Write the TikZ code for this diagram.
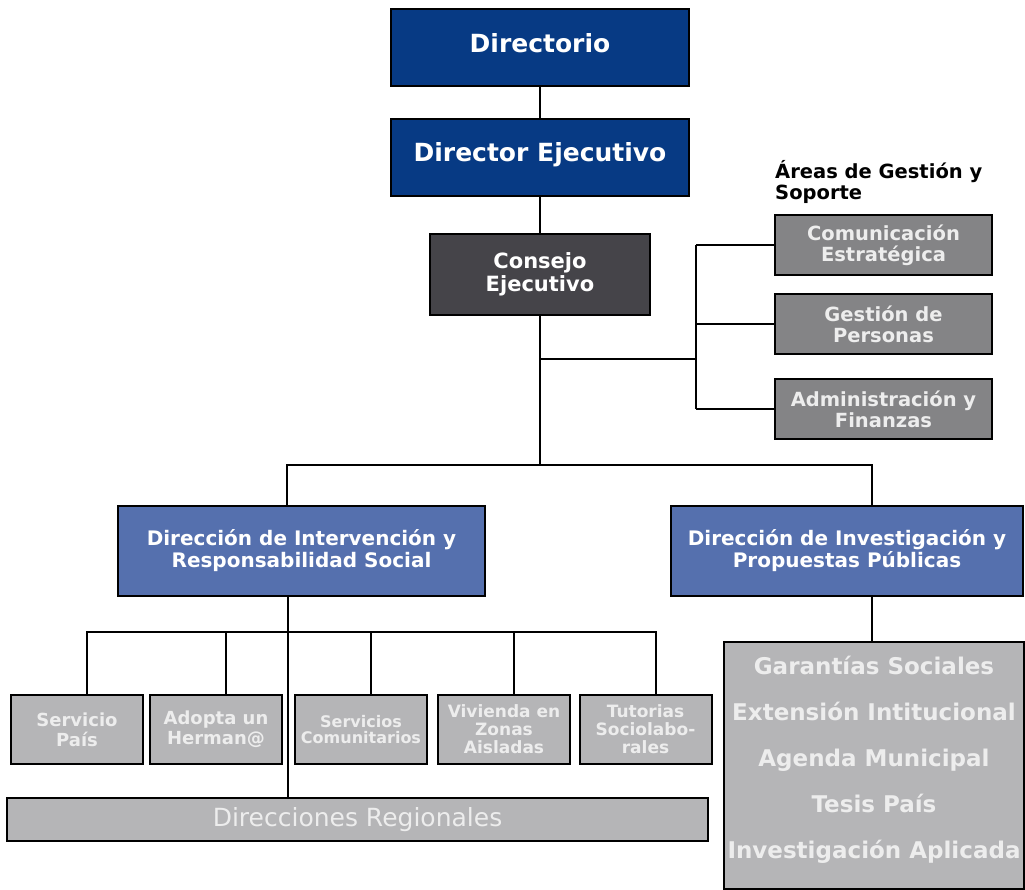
\documentclass[tikz,border=0pt]{standalone}
\usepackage{fontspec}
\setmainfont{DejaVu Sans}
\usetikzlibrary{calc, positioning}

\definecolor{navy}{HTML}{073A84}
\definecolor{steel}{HTML}{5570AE}
\definecolor{coal}{HTML}{454449}
\definecolor{midgray}{HTML}{848486}
\definecolor{lightgray}{HTML}{B5B5B7}
\definecolor{paletext}{HTML}{EDEDED}

\tikzset{
    box/.style={draw=black, line width=2pt, align=center, inner sep=0pt},
    navybox/.style={box, fill=navy, text=white, minimum width=298pt, minimum height=77pt,
        text depth=10pt, font=\fontsize{25}{28}\selectfont\bfseries},
    coalbox/.style={box, fill=coal, text=white, minimum width=220pt, minimum height=81pt,
        font=\fontsize{21}{23}\selectfont\bfseries},
    areabox/.style={box, fill=midgray, text=paletext, minimum width=217pt, minimum height=60pt,
        font=\fontsize{19.5}{21}\selectfont\bfseries},
    steelbox/.style={box, fill=steel, text=white, minimum height=90pt,
        font=\fontsize{20}{22}\selectfont\bfseries},
    unitbox/.style={box, fill=lightgray, text=paletext, minimum width=132pt, minimum height=69pt},
    conn/.style={line width=2pt}
}

\begin{document}
\begin{tikzpicture}[x=1pt, y=-1pt]
    \useasboundingbox (0, 0) rectangle (1025, 890);

    \node[navybox] (dir) at (540, 48) {Directorio};
    \node[navybox] (dex) at (540, 157.5) {Director Ejecutivo};
    \node[coalbox] (cex) at (540, 274.5) {Consejo\\Ejecutivo};

    \node[anchor=north west, align=left, inner sep=0pt,
        font=\fontsize{19.5}{21}\selectfont\bfseries] (areas) at (775, 160) {Áreas de Gestión y\\Soporte};
    \node[areabox] (com) at (883.5, 245.5) {Comunicación\\Estratégica};
    \node[areabox] (gp) at (883.5, 324) {Gestión de\\Personas};
    \node[areabox] (adm) at (883.5, 409) {Administración y\\Finanzas};

    \node[steelbox, minimum width=367pt] (dirs) at (301.5, 551) {Dirección de Intervención y\\Responsabilidad Social};
    \node[steelbox, minimum width=352pt] (dipp) at (847, 551) {Dirección de Investigación y\\Propuestas Públicas};

    \node[unitbox, font=\fontsize{18}{20}\selectfont\bfseries] (sp) at (77, 729.5) {Servicio\\País};
    \node[unitbox, font=\fontsize{18}{20}\selectfont\bfseries] (adh) at (216, 729.5) {Adopta un\\Herman@};
    \node[unitbox, font=\fontsize{16}{16.5}\selectfont\bfseries] (scom) at (361, 729.5) {Servicios\\Comunitarios};
    \node[unitbox, font=\fontsize{17}{18}\selectfont\bfseries] (viv) at (504, 729.5) {Vivienda en\\Zonas\\Aisladas};
    \node[unitbox, font=\fontsize{17}{18}\selectfont\bfseries] (tut) at (645.5, 729.5) {Tutorias\\Sociolabo-\\rales};

    \node[box, fill=lightgray, text=paletext, minimum width=701pt, minimum height=43pt,
        font=\fontsize{25}{28}\selectfont] (reg) at (357.5, 819.5) {Direcciones Regionales};

    \node[box, fill=lightgray, text=paletext, minimum width=300pt, minimum height=247pt,
        text depth=16pt, font=\fontsize{23}{46}\selectfont\bfseries] (inv) at (874, 765.5)
        {Garantías Sociales\\Extensión Intitucional\\Agenda Municipal\\Tesis País\\Investigación Aplicada};

    \coordinate (aj) at (696, 359);
    \coordinate (lbr) at (287, 465);
    \coordinate (rbr) at (872, 465);
    \coordinate (sbr) at (288, 633);

    \draw[conn]
    (dir) -- (dex)
    (dex) -- (cex)
    (cex.south) -- (cex.south |- lbr)
    (cex.south |- aj) -- (aj)
    (aj |- com.west) -- (aj |- adm.west)
    (aj |- com.west) -- (com.west)
    (aj |- gp.west) -- (gp.west)
    (aj |- adm.west) -- (adm.west);

    \draw[conn]
    (lbr |- dirs.north) -- (lbr) -- (rbr) -- (rbr |- dipp.north)
    (rbr |- dipp.south) -- (rbr |- inv.north)
    (sbr |- dirs.south) -- (sbr |- reg.north);

    \draw[conn] ($(sp.north)+(10,0)$) |- ($(tut.north)+(10,-62)$) -- ($(tut.north)+(10,0)$);
    \foreach \u in {adh, scom, viv} {
        \draw[conn] ($(\u.north)+(10,0)$) -- ++(0,-62);
    }
\end{tikzpicture}
\end{document}
